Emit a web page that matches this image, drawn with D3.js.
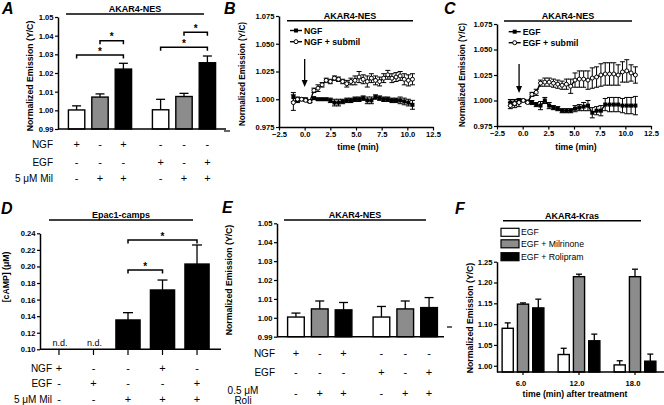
<!DOCTYPE html>
<html><head><meta charset="utf-8">
<script src="https://cdn.jsdelivr.net/npm/d3@7"></script>
<style>body{margin:0;background:#fff} svg text{font-family:"Liberation Sans",Arial,Helvetica,sans-serif}</style>
</head><body><svg id="c" width="664" height="405"></svg>
<script>
// ================= DATA =================
// Panel A
const aGroups = ["NGF", "EGF"];
const aConds = ["stim", "mil", "stim+mil"];
const aValues = [1.0002, 1.0071, 1.0221, 1.0003, 1.0074, 1.0255];
const aErrors = [0.0022, 0.0017, 0.0031, 0.0056, 0.0017, 0.0036];
const aRowLabels = ["NGF", "EGF", "5 \u03bcM Mil"];
const aRows = [["+","-","+","-","-","-"], ["-","-","-","+","-","+"], ["-","+","+","-","+","+"]];
const aTicks = [0.99, 1.00, 1.01, 1.02, 1.03, 1.04, 1.05];
// significance brackets: [fromBar, toBar, level]
const aSig = [[0, 2, 1.0296], [1, 2, 1.0373], [3, 5, 1.0338], [4, 5, 1.0418]];

// Panel B
const bTime = [-1.1,-0.7,-0.3,0.1,0.5,0.9,1.3,1.7,2.1,2.5,2.9,3.3,3.7,4.1,4.5,4.9,5.3,5.7,6.1,6.5,6.9,7.3,7.7,8.1,8.5,8.9,9.3,9.7,10.1,10.5];
const bNGF = [1.002,0.999,1.000,1.000,0.998,1.001,1.000,1.000,1.000,0.999,0.997,0.997,0.998,0.999,0.999,1.000,1.000,1.001,0.999,0.999,1.002,1.001,1.000,1.000,0.999,0.999,0.999,0.998,0.997,0.995];
const bNGFErr = [0.004,0.002,0.001,0.001,0.001,0.001,0.001,0.001,0.001,0.002,0.003,0.003,0.002,0.002,0.002,0.002,0.002,0.002,0.003,0.003,0.002,0.002,0.002,0.002,0.002,0.002,0.003,0.003,0.003,0.004];
const bSub = [0.997,1.000,1.000,0.999,0.998,1.008,1.010,1.013,1.017,1.016,1.019,1.018,1.016,1.014,1.016,1.017,1.020,1.018,1.016,1.019,1.017,1.016,1.019,1.022,1.019,1.020,1.021,1.018,1.017,1.018];
const bSubErr = [0.007,0.002,0.001,0.001,0.001,0.002,0.003,0.002,0.002,0.002,0.002,0.002,0.002,0.003,0.003,0.004,0.005,0.004,0.005,0.004,0.004,0.004,0.004,0.004,0.004,0.004,0.004,0.005,0.005,0.005];
const bLegend = ["NGF", "NGF + submil"];

// Panel C
const cTime = [-1.2,-0.78,-0.36,0.06,0.48,0.9,1.32,1.74,2.16,2.58,3.0,3.42,3.84,4.26,4.68,5.1,5.52,5.94,6.36,6.78,7.2,7.62,8.04,8.46,8.88,9.3,9.72,10.14,10.56,10.98];
const cEGF = [0.998,0.998,0.999,1.000,0.999,0.998,0.996,0.995,1.000,0.995,0.993,0.992,0.990,0.990,0.990,0.992,0.993,0.994,0.995,0.988,0.990,0.990,0.996,0.996,0.996,0.996,0.995,0.995,0.995,0.995];
const cEGFErr = [0.003,0.003,0.002,0.001,0.001,0.002,0.002,0.004,0.003,0.003,0.002,0.002,0.002,0.002,0.002,0.003,0.003,0.004,0.005,0.005,0.004,0.005,0.006,0.007,0.007,0.007,0.007,0.008,0.008,0.009];
const cSub = [0.995,0.997,0.998,1.000,0.998,1.006,1.008,1.017,1.018,1.018,1.017,1.016,1.015,1.016,1.014,1.020,1.021,1.021,1.020,1.022,1.023,1.025,1.026,1.026,1.026,1.025,1.028,1.029,1.027,1.025];
const cSubErr = [0.003,0.004,0.004,0.001,0.001,0.002,0.003,0.003,0.004,0.004,0.004,0.004,0.004,0.005,0.007,0.007,0.008,0.008,0.009,0.010,0.010,0.011,0.011,0.011,0.011,0.010,0.010,0.011,0.008,0.008];
const cLegend = ["EGF", "EGF + submil"];
const tsTicksY = [0.975, 1.000, 1.025, 1.050, 1.075];
const tsTicksX = [-2.5, 0, 2.5, 5, 7.5, 10, 12.5];

// Panel D
const dCats = ["NGF", "EGF", "Mil", "NGF+Mil", "EGF+Mil"];
const dValues = [null, null, 0.1354, 0.1716, 0.2029];
const dErrors = [null, null, 0.0088, 0.0120, 0.0230];
const dRowLabels = ["NGF", "EGF", "5 \u03bcM Mil"];
const dRows = [["+","-","-","+","-"], ["-","+","-","-","+"], ["-","-","+","+","+"]];
const dTicks = [0.10, 0.12, 0.14, 0.16, 0.18, 0.20, 0.22, 0.24];
const dSig = [[2, 4, 0.2319], [2, 3, 0.1957]];

// Panel E
const eValues = [1.0004, 1.0047, 1.0042, 1.0004, 1.0047, 1.0054];
const eErrors = [0.0021, 0.0042, 0.0039, 0.0056, 0.0042, 0.0053];
const eRows = [["+","-","+","-","-","-"], ["-","-","-","+","-","+"], ["-","+","+","-","+","+"]];
const eRowLabels = ["NGF", "EGF"];
const eRoliLabel = ["0.5 \u03bcM", "Roli"];

// Panel F
const fTimes = ["6.0", "12.0", "18.0"];
const fSeries = ["EGF", "EGF + Milrinone", "EGF + Rolipram"];
const fEGF = [1.090, 1.027, 1.002];
const fEGFErr = [0.013, 0.015, 0.010];
const fMil = [1.148, 1.214, 1.214];
const fMilErr = [0.003, 0.006, 0.018];
const fRoli = [1.139, 1.060, 1.011];
const fRoliErr = [0.021, 0.016, 0.017];
const fTicks = [1.00, 1.05, 1.10, 1.15, 1.20, 1.25];

// ================= DRAWING =================
const svg = d3.select("#c");
const FONT = '"Liberation Sans", Arial, Helvetica, sans-serif';
const GRAY = "#8c8c8c";
const fills3 = ["#ffffff", GRAY, "#000000"];
const SYM = 11;
const ROW = 10;

function txt(x, y, s, o = {}) {
  return svg.append("text").attr("x", x).attr("y", y).text(s)
    .attr("font-size", o.size || 8)
    .attr("font-weight", o.bold ? "bold" : "normal")
    .attr("font-style", o.italic ? "italic" : "normal")
    .attr("text-anchor", o.anchor || "start")
    .attr("dominant-baseline", "central")
    .attr("fill", "#000")
    .attr("transform", o.rotate ? `rotate(-90,${x},${y})` : null);
}
function line(x1, y1, x2, y2, w = 1.5) {
  svg.append("line").attr("x1", x1).attr("y1", y1).attr("x2", x2).attr("y2", y2)
    .attr("stroke", "#000").attr("stroke-width", w);
}
function leftAxis(y, x0, ticks, fmt) {
  const g = svg.append("g").attr("transform", `translate(${x0},0)`)
    .call(d3.axisLeft(y).tickValues(ticks).tickFormat(fmt).tickSize(3).tickSizeOuter(0).tickPadding(1.5));
  g.attr("font-family", FONT).attr("font-size", 7.6).attr("font-weight", "bold");
  g.select(".domain").attr("stroke-width", 1.5);
  g.selectAll(".tick line").attr("stroke-width", 1.2);
  return g;
}
function panelTitle(x1, x2, yl, s) {
  line(x1, yl, x2, yl, 1.5);
  txt((x1 + x2) / 2, yl - 5, s, {bold: true, size: 9, anchor: "middle"});
}
function letter(x, y, s) { txt(x, y, s, {bold: true, italic: true, size: 16}); }

function bracket(x1, x2, yy) {
  svg.append("path").attr("d", `M${x1},${yy + 3.5}V${yy}H${x2}V${yy + 3.5}`)
    .attr("fill", "none").attr("stroke", "#000").attr("stroke-width", 1.5);
  txt((x1 + x2) / 2, yy - 4, "*", {bold: true, size: 10, anchor: "middle"});
}
function bars(recs, y, capW) {
  const base = y.range()[0];
  recs.forEach(r => {
    if (r.v == null) return;
    const cx = r.x + r.w / 2;
    line(cx, y(r.v), cx, y(r.v + r.e), 1.3);
    line(cx - capW / 2, y(r.v + r.e), cx + capW / 2, y(r.v + r.e), 1.3);
  });
  svg.append("g").selectAll("rect").data(recs.filter(r => r.v != null)).join("rect")
    .attr("x", r => r.x).attr("width", r => r.w)
    .attr("y", r => y(r.v)).attr("height", r => base - y(r.v))
    .attr("fill", r => r.fill).attr("stroke", "#000").attr("stroke-width", 1.4);
}

// ---------- Panel A ----------
{
  const y = d3.scaleLinear().domain([0.99, 1.05]).range([129, 17]);
  const outer = d3.scaleBand().domain(aGroups).range([58, 226]);
  const inner = d3.scaleBand().domain(aConds).range([0, outer.bandwidth()]).paddingInner(0.3).paddingOuter(0.445);
  const recs = aValues.map((v, i) => ({
    x: outer(aGroups[Math.floor(i / 3)]) + inner(aConds[i % 3]), w: inner.bandwidth(),
    v, e: aErrors[i], fill: fills3[i % 3]}));
  bars(recs, y, 9);
  leftAxis(y, 58, aTicks, d3.format(".2f"));
  line(58, 129, 226, 129, 1.5);
  aSig.forEach(([a, b, lv]) => bracket(recs[a].x + recs[a].w / 2, recs[b].x + recs[b].w / 2, y(lv)));
  panelTitle(66, 204, 14, "AKAR4-NES");
  txt(30, 76, "Normalized Emission (Y/C)", {bold: true, size: 8.7, anchor: "middle", rotate: true});
  const rowY = [144, 162, 178];
  aRowLabels.forEach((l, r) => txt(53, rowY[r], l, {size: ROW, anchor: "end"}));
  aRows.forEach((row, r) => row.forEach((s, i) =>
    txt(recs[i].x + recs[i].w / 2, rowY[r], s, {size: SYM, anchor: "middle"})));
  letter(2, 8, "A");
}

// ---------- Time series panels ----------
function tsPanel(o) {
  const x = d3.scaleLinear().domain([-2.5, 12.5]).range([o.x0, o.x1]);
  const y = d3.scaleLinear().domain([0.975, 1.075]).range([o.yb, o.yt]);
  const series = [
    {t: o.time, v: o.v1, e: o.e1, sq: true},
    {t: o.time, v: o.v2, e: o.e2, sq: false}
  ];
  series.forEach(s => {
    const g = svg.append("g");
    s.v.forEach((v, i) => {
      const cx = x(s.t[i]);
      g.append("line").attr("x1", cx).attr("x2", cx).attr("y1", y(v - s.e[i])).attr("y2", y(v + s.e[i]))
        .attr("stroke", "#000").attr("stroke-width", 1);
      [v - s.e[i], v + s.e[i]].forEach(w => g.append("line").attr("x1", cx - 2.5).attr("x2", cx + 2.5)
        .attr("y1", y(w)).attr("y2", y(w)).attr("stroke", "#000").attr("stroke-width", 1));
    });
  });
  series.forEach(s => {
    const pts = s.v.map((v, i) => [x(s.t[i]), y(v)]);
    svg.append("path").attr("d", d3.line()(pts)).attr("fill", "none").attr("stroke", "#000").attr("stroke-width", 1.4);
    const g = svg.append("g");
    pts.forEach(p => {
      if (s.sq) g.append("rect").attr("x", p[0] - 2).attr("y", p[1] - 2).attr("width", 4).attr("height", 4).attr("fill", "#000");
      else g.append("circle").attr("cx", p[0]).attr("cy", p[1]).attr("r", 2).attr("fill", "#fff").attr("stroke", "#000").attr("stroke-width", 1);
    });
  });
  leftAxis(y, o.x0, tsTicksY, d3.format(".3f"));
  const gx = svg.append("g").attr("transform", `translate(0,${o.yb})`)
    .call(d3.axisBottom(x).tickValues(tsTicksX).tickFormat(d3.format(".1f")).tickSize(3.5).tickSizeOuter(0).tickPadding(1.5));
  gx.attr("font-family", FONT).attr("font-size", 7.6).attr("font-weight", "bold");
  gx.select(".domain").attr("stroke-width", 1.5);
  gx.selectAll(".tick line").attr("stroke-width", 1.2);
  txt((o.x0 + o.x1) / 2 + 2, 147, "time (min)", {bold: true, size: 8.7, anchor: "middle"});
  o.legend.forEach((l, i) => {
    const ly = o.legY[i];
    line(o.legX, ly, o.legX + 12, ly, 1.4);
    if (i === 0) svg.append("rect").attr("x", o.legX + 4).attr("y", ly - 2).attr("width", 4).attr("height", 4).attr("fill", "#000");
    else svg.append("circle").attr("cx", o.legX + 6).attr("cy", ly).attr("r", 2).attr("fill", "#fff").attr("stroke", "#000");
    txt(o.legX + 14, ly, l, {bold: true, size: 8.7});
  });
  const ax = x(o.arrowT);
  line(ax, o.arrowY0, ax, o.arrowY1 - 6, 1.3);
  svg.append("path").attr("d", `M${ax - 3},${o.arrowY1 - 7}L${ax + 3},${o.arrowY1 - 7}L${ax},${o.arrowY1}Z`).attr("fill", "#000");
}
tsPanel({x0: 279, x1: 433, yb: 127, yt: 16, time: bTime, v1: bNGF, e1: bNGFErr, v2: bSub, e2: bSubErr,
  legend: bLegend, legX: 290, legY: [30.5, 41.7], arrowT: 0, arrowY0: 59, arrowY1: 87});
panelTitle(287, 413, 20.7, "AKAR4-NES");
txt(242, 74, "Normalized Emission (Y/C)", {bold: true, size: 8.2, anchor: "middle", rotate: true});
letter(224, 8, "B");

tsPanel({x0: 497, x1: 651, yb: 126, yt: 24, time: cTime, v1: cEGF, e1: cEGFErr, v2: cSub, e2: cSubErr,
  legend: cLegend, legX: 508.7, legY: [31.7, 42.7], arrowT: -0.35, arrowY0: 64, arrowY1: 93});
panelTitle(504, 632, 21, "AKAR4-NES");
txt(462, 75, "Normalized  Emission (Y/C)", {bold: true, size: 8.2, anchor: "middle", rotate: true});
letter(444, 8, "C");

// ---------- Panel D ----------
{
  const y = d3.scaleLinear().domain([0.10, 0.24]).range([349.3, 233.3]);
  const x = d3.scaleBand().domain(dCats).range([40, 216]).paddingInner(0.3).paddingOuter(0.2);
  const recs = dCats.map((c, i) => ({x: x(c), w: x.bandwidth(), v: dValues[i], e: dErrors[i], fill: "#000"}));
  bars(recs, y, 10);
  leftAxis(y, 40, dTicks, d3.format(".2f"));
  line(40, 349.3, 221, 349.3, 1.5);
  dCats.forEach(c => line(x(c) + x.bandwidth() / 2, 349.3, x(c) + x.bandwidth() / 2, 355, 1.2));
  dValues.forEach((v, i) => { if (v == null) txt(x(dCats[i]) + x.bandwidth() / 2 + 1, 343, "n.d.", {size: 9, anchor: "middle"}); });
  dSig.forEach(([a, b, lv]) => bracket(recs[a].x + recs[a].w / 2, recs[b].x + recs[b].w / 2, y(lv)));
  panelTitle(49, 193, 220, "Epac1-camps");
  txt(6, 277, "[cAMP] (\u03bcM)", {bold: true, size: 8.7, anchor: "middle", rotate: true});
  const rowY = [368.3, 383.3, 399];
  dRowLabels.forEach((l, r) => txt(52, rowY[r], l, {size: ROW, anchor: "end"}));
  dRows.forEach((row, r) => row.forEach((s, i) =>
    txt(x(dCats[i]) + x.bandwidth() / 2, rowY[r], s, {size: SYM, anchor: "middle"})));
  letter(1, 208, "D");
}

// ---------- Panel E ----------
{
  const y = d3.scaleLinear().domain([0.99, 1.05]).range([336.7, 223.3]);
  const outer = d3.scaleBand().domain(aGroups).range([277, 448]);
  const inner = d3.scaleBand().domain(aConds).range([0, outer.bandwidth()]).paddingInner(0.3).paddingOuter(0.445);
  const recs = eValues.map((v, i) => ({
    x: outer(aGroups[Math.floor(i / 3)]) + inner(aConds[i % 3]), w: inner.bandwidth(),
    v, e: eErrors[i], fill: fills3[i % 3]}));
  bars(recs, y, 9);
  leftAxis(y, 277, aTicks, d3.format(".2f"));
  line(277, 336.7, 444, 336.7, 1.5);
  panelTitle(284, 426, 220, "AKAR4-NES");
  txt(229, 280, "Normalized Emission (Y/C)", {bold: true, size: 8.7, anchor: "middle", rotate: true});
  const rowY = [353, 372, 393.3];
  eRowLabels.forEach((l, r) => txt(275, rowY[r], l, {size: ROW, anchor: "end"}));
  txt(243, 390.5, eRoliLabel[0], {size: ROW, anchor: "middle"});
  txt(243, 400.3, eRoliLabel[1], {size: ROW, anchor: "middle"});
  eRows.forEach((row, r) => row.forEach((s, i) =>
    txt(recs[i].x + recs[i].w / 2, rowY[r], s, {size: SYM, anchor: "middle"})));
  letter(222, 207, "E");
}

// ---------- Panel F ----------
{
  const y = d3.scaleLinear().domain([0.985, 1.25]).range([372, 261.7]);
  const outer = d3.scaleBand().domain(fTimes).range([495, 663]);
  const inner = d3.scaleBand().domain(fSeries).range([0, outer.bandwidth()]).paddingInner(0.27).paddingOuter(0.465);
  const vals = [fEGF, fMil, fRoli], errs = [fEGFErr, fMilErr, fRoliErr];
  const recs = [];
  fTimes.forEach((t, gi) => fSeries.forEach((s, si) =>
    recs.push({x: outer(t) + inner(s), w: inner.bandwidth(), v: vals[si][gi], e: errs[si][gi], fill: fills3[si]})));
  bars(recs, y, 6);
  leftAxis(y, 497, fTicks, d3.format(".2f"));
  line(497, 372, 664, 372, 1.5);
  fTimes.forEach(t => {
    const cx = outer(t) + inner(fSeries[1]) + inner.bandwidth() / 2;
    line(cx, 372, cx, 375, 1.2);
    txt(cx - 2, 383, t, {bold: true, size: 7.6, anchor: "middle"});
  });
  txt(575, 394, "time (min) after treatment", {bold: true, size: 8.7, anchor: "middle"});
  txt(470, 318, "Normalized Emission (Y/C)", {bold: true, size: 8.7, anchor: "middle", rotate: true});
  panelTitle(503, 641, 220.7, "AKAR4-Kras");
  const legY = [232.3, 243.8, 256.7];
  fSeries.forEach((s, i) => {
    svg.append("rect").attr("x", 501).attr("y", legY[i] - 4).attr("width", 18).attr("height", 8)
      .attr("fill", fills3[i]).attr("stroke", "#000").attr("stroke-width", 1.2);
    txt(521, legY[i], s, {size: 8.7});
  });
  letter(455, 208, "F");
}
// small stray marks present in the reference
line(224, 131, 230, 131, 1.2);
line(447, 327, 452, 327, 1.2);
</script></body></html>
